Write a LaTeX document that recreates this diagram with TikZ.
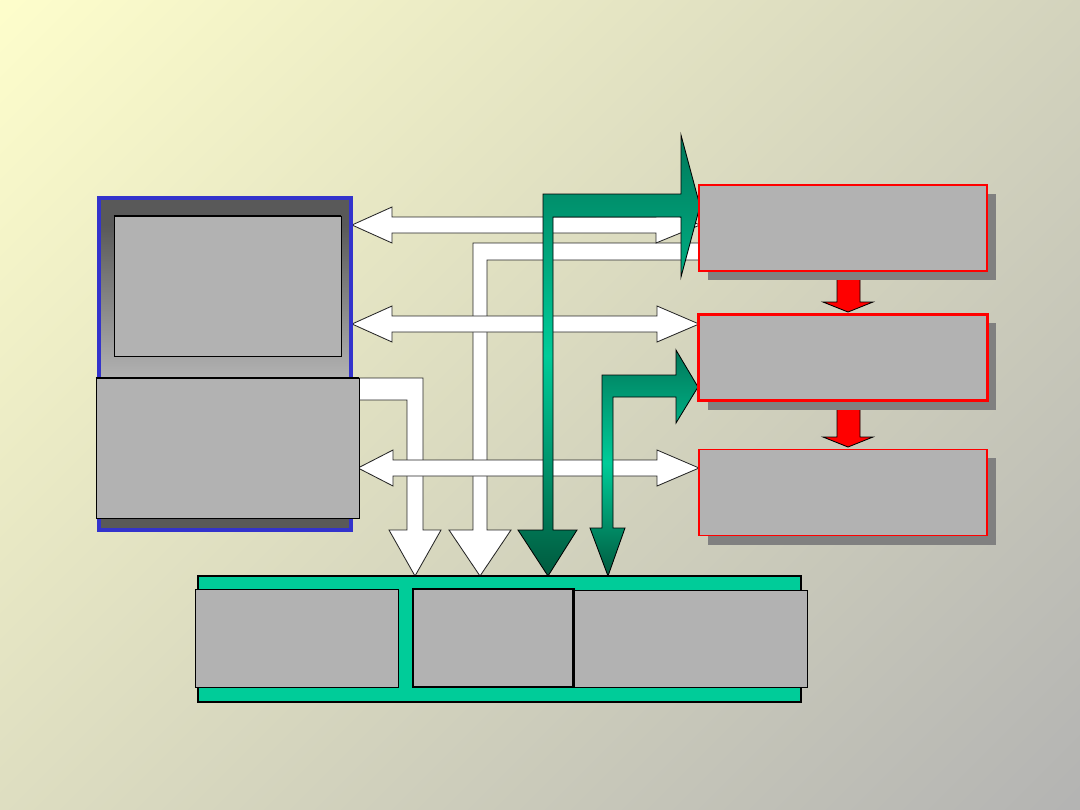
\documentclass[tikz,border=0pt]{standalone}
\usetikzlibrary{shadows}

\definecolor{slideyellow}{HTML}{FFFFCC}
\definecolor{slidegray}{HTML}{B2B2B2}
\definecolor{boxgray}{HTML}{B2B2B2}
\definecolor{shadowgray}{HTML}{808080}
\definecolor{framedark}{HTML}{595959}
\definecolor{frameblue}{HTML}{3333CC}
\definecolor{busgreen}{HTML}{00CC99}
\definecolor{arrowgreen}{HTML}{00785A}
\definecolor{arrowdeep}{HTML}{005A3E}
\pgfdeclareverticalshading{slidebg}{100bp}{color(0bp)=(slidegray); color(13bp)=(slidegray);
  color(87bp)=(slideyellow); color(100bp)=(slideyellow)}

\begin{document}
\begin{tikzpicture}[
  x=0.025cm,
  y=-0.025cm,
  graybox/.style={
    draw=black,
    fill=boxgray,
    line width=0.6pt,
    inner sep=0pt
  },
  stagebox/.style={
    draw=red,
    fill=boxgray,
    line width=1pt,
    inner sep=0pt,
    minimum width=7.2cm,
    minimum height=2.15cm,
    general shadow={fill=shadowgray, shadow xshift=0.225cm, shadow yshift=-0.225cm}
  },
  bus/.style={draw=black, fill=busgreen, line width=1.4pt, inner sep=0pt},
  whitearrow/.style={draw=black!85, fill=white, line width=0.6pt},
  greenarrow/.style={
    draw=black,
    line width=0.6pt,
    top color=arrowgreen,
    bottom color=arrowdeep,
    middle color=busgreen
  },
  redarrow/.style={draw=black, fill=red, line width=0.6pt}
]

\useasboundingbox (0,0) rectangle (1080,810);
\shade[shading=slidebg, shading angle=45] (0,0) rectangle (1080,810);

% ---------------------------------------------------------------------------
% red arrows between the stages
% ---------------------------------------------------------------------------
\draw[redarrow] (837,276) -- (860,276) -- (860,302) -- (873,302) -- (848,312)
  -- (823,302) -- (837,302) -- cycle;
\draw[redarrow] (837,405) -- (860,405) -- (860,437) -- (873,437) -- (848,447)
  -- (823,437) -- (837,437) -- cycle;

% ---------------------------------------------------------------------------
% white arrows
% ---------------------------------------------------------------------------
% elbow arrows down to the bus
\draw[whitearrow] (350,378) -- (423,378) -- (423,530) -- (441,530) -- (415,576)
  -- (389,530) -- (407,530) -- (407,400) -- (350,400) -- cycle;
\draw[whitearrow] (705,243) -- (473,243) -- (473,530) -- (449,530) -- (480,576)
  -- (511,530) -- (487,530) -- (487,260) -- (705,260) -- cycle;

% horizontal double arrows
\draw[whitearrow] (352,225) -- (392,207) -- (392,217) -- (656,217) -- (656,207)
  -- (700,225) -- (656,243) -- (656,233) -- (392,233) -- (392,243) -- cycle;
\draw[whitearrow] (352,324) -- (392,306) -- (392,316) -- (657,316) -- (657,306)
  -- (699,324) -- (657,342) -- (657,332) -- (392,332) -- (392,342) -- cycle;
\draw[whitearrow] (358,468) -- (393,450) -- (393,460) -- (657,460) -- (657,450)
  -- (699,468) -- (657,486) -- (657,476) -- (393,476) -- (393,486) -- cycle;

% ---------------------------------------------------------------------------
% green arrows
% ---------------------------------------------------------------------------
\draw[greenarrow] (543,194) -- (681,194) -- (681,135) -- (700,206) -- (681,277)
  -- (681,217) -- (553,217) -- (553,530) -- (577,530) -- (548,576)
  -- (518,530) -- (543,530) -- cycle;
\draw[greenarrow] (602,375) -- (676,375) -- (676,350) -- (698,387) -- (676,423)
  -- (676,397) -- (613,397) -- (613,528) -- (625,528) -- (608,576)
  -- (590,528) -- (602,528) -- cycle;

% ---------------------------------------------------------------------------
% stages on the right
% ---------------------------------------------------------------------------
\node[stagebox] (stageA) at (843,228) {};
\node[stagebox, line width=2.1pt] (stageB) at (843,357.5) {};
\node[stagebox] (stageC) at (843,492.5) {};

% ---------------------------------------------------------------------------
% computer on the left
% ---------------------------------------------------------------------------
\fill[framedark] (99,198) rectangle (351,530);
\shade[top color=framedark, bottom color=boxgray] (99,225) rectangle (351,378);
\draw[frameblue, line width=2.4pt] (99,198) rectangle (351,530);
\node[graybox, minimum width=5.675cm, minimum height=3.5cm] (screen) at (227.5,286) {};
\draw[line width=1.4pt] (screen.north west) -- (screen.north east);
\node[graybox, minimum width=6.575cm, minimum height=3.5cm] (keyboard) at (227.5,448) {};
\draw[line width=1.2pt] (keyboard.north west) -- (keyboard.north east);

% ---------------------------------------------------------------------------
% bus at the bottom
% ---------------------------------------------------------------------------
\node[bus, minimum width=15.075cm, minimum height=3.15cm] (bus) at (499.5,639) {};
\node[graybox, minimum width=5.075cm, minimum height=2.45cm] (busleft) at (296.5,638) {};
\node[graybox, minimum width=5.85cm, minimum height=2.425cm] (busright) at (690,638.5) {};
\node[graybox, line width=2.1pt, minimum width=4cm, minimum height=2.45cm] (busmid) at (493,638) {};

\end{tikzpicture}
\end{document}
